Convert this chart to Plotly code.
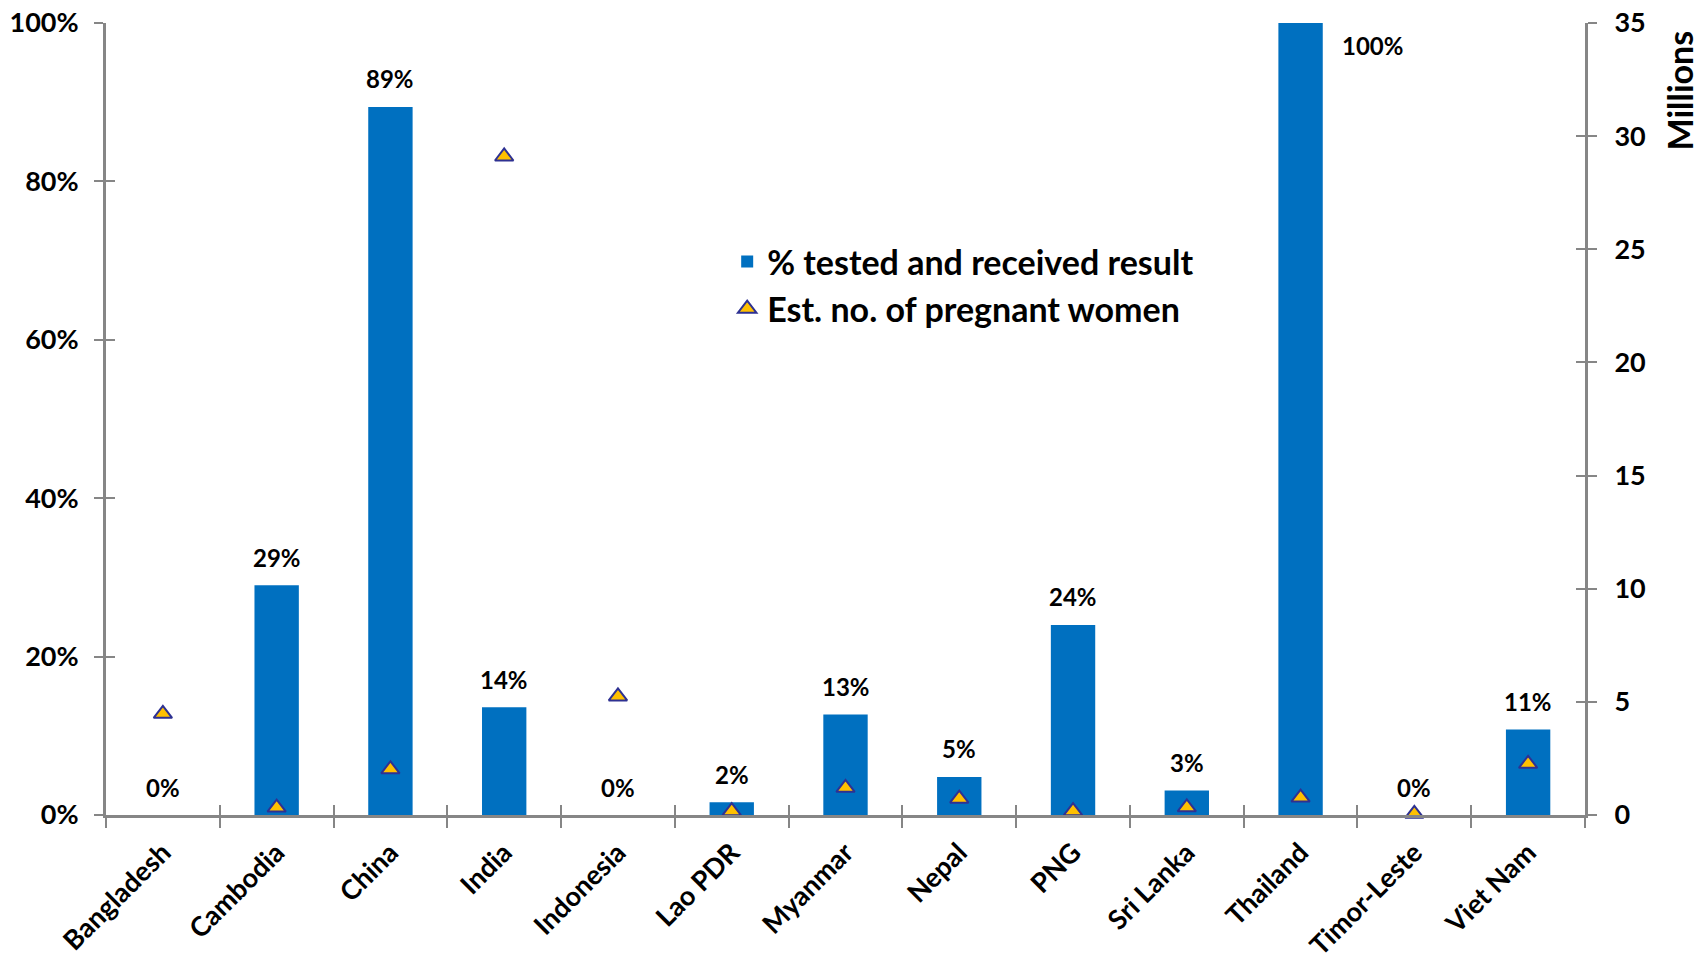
import plotly.graph_objects as go

# Countries on the category axis
countries = ["Bangladesh", "Cambodia", "China", "India", "Indonesia", "Lao PDR",
             "Myanmar", "Nepal", "PNG", "Sri Lanka", "Thailand", "Timor-Leste", "Viet Nam"]

# % of pregnant women tested and received result (left axis)
pct_tested = [0, 29.0, 89.4, 13.6, 0, 1.6, 12.7, 4.8, 24.0, 3.1, 100, 0, 10.8]

# Estimated number of pregnant women, millions (right axis)
pregnant_women_m = [4.47, 0.33, 2.02, 29.1, 5.24, 0.17, 1.2, 0.72, 0.17, 0.34, 0.77, 0.05, 2.26]

left_ticks = [0, 20, 40, 60, 80, 100]
left_tick_text = [f"{v}%" for v in left_ticks]
right_ticks = [0, 5, 10, 15, 20, 25, 30, 35]

FONT = "Lato"
AXIS_GREY = "#868686"
BAR_BLUE = "#0070C0"

fig = go.Figure()

fig.add_trace(go.Bar(
    x=countries, y=pct_tested, name="% tested and received result",
    marker=dict(color=BAR_BLUE, line=dict(width=0)),
    width=0.39, xaxis="x", yaxis="y",
))

fig.add_trace(go.Scatter(
    x=countries, y=pregnant_women_m, name="Est. no. of pregnant women",
    mode="markers", xaxis="x", yaxis="y2",
    marker=dict(symbol="triangle-up", size=16, color="#FFC000",
                line=dict(color="#2E3192", width=2)),
    cliponaxis=False,
))

# Invisible traces carrying the overlay axes that draw the inner half of the tick marks
fig.add_trace(go.Scatter(x=countries, y=[None] * len(countries), xaxis="x2", yaxis="y3",
                         showlegend=False, hoverinfo="skip"))
fig.add_trace(go.Scatter(x=countries, y=[None] * len(countries), xaxis="x2", yaxis="y4",
                         showlegend=False, hoverinfo="skip"))

label_font = dict(family=FONT, size=24, color="black", weight="bold")

# Value labels above each bar
for c, v in zip(countries, pct_tested):
    if v >= 100:
        fig.add_annotation(x=c, y=v, xref="x", yref="y", text=f"{v:.0f}%",
                           showarrow=False, xshift=72, yshift=-22, font=label_font)
    else:
        fig.add_annotation(x=c, y=v, xref="x", yref="y", text=f"{v:.0f}%",
                           showarrow=False, yshift=28, font=label_font)

# Right axis title
fig.add_annotation(x=1.0, y=1.0, xref="paper", yref="paper", text="Millions",
                   textangle=-90, showarrow=False, xanchor="left", yanchor="top",
                   xshift=71, yshift=-6,
                   font=dict(family=FONT, size=34, color="black", weight="bold"))

tick_font = dict(family=FONT, size=27, color="black", weight="bold")

fig.update_layout(
    width=1705, height=964,
    margin=dict(l=106, r=120, t=23, b=149, autoexpand=False),
    paper_bgcolor="white", plot_bgcolor="white",
    showlegend=True,
    legend=dict(x=0.42, y=0.735, xanchor="left", yanchor="top",
                bgcolor="rgba(0,0,0,0)",
                font=dict(family=FONT, size=34, color="black", weight="bold"),
                tracegroupgap=0),
    xaxis=dict(type="category", categoryorder="array", categoryarray=countries,
               range=[-0.5, 12.5], tickson="boundaries", ticks="outside",
               ticklen=10, tickwidth=2, tickcolor=AXIS_GREY,
               showline=True, linecolor=AXIS_GREY, linewidth=3,
               tickangle=-45, tickfont=dict(family=FONT, size=27, color="black", weight="bold"),
               ticklabelstandoff=8, automargin=False, showgrid=False, zeroline=False),
    xaxis2=dict(type="category", categoryorder="array", categoryarray=countries,
                range=[-0.5, 12.5], overlaying="x", anchor="y3", side="bottom",
                tickson="boundaries", ticks="inside", ticklen=10, tickwidth=2,
                tickcolor=AXIS_GREY, showticklabels=False, showline=False,
                automargin=False, showgrid=False, zeroline=False),
    yaxis=dict(range=[0, 100], tickvals=left_ticks, ticktext=left_tick_text,
               ticks="outside", ticklen=9, tickwidth=2, tickcolor=AXIS_GREY,
               showline=True, linecolor=AXIS_GREY, linewidth=3,
               tickfont=tick_font, ticklabelstandoff=10, automargin=False,
               showgrid=False, zeroline=False),
    yaxis2=dict(range=[0, 35], tickvals=right_ticks, overlaying="y", side="right",
                anchor="x", ticks="outside", ticklen=9, tickwidth=2,
                tickcolor=AXIS_GREY, showline=True, linecolor=AXIS_GREY, linewidth=3,
                tickfont=tick_font, ticklabelstandoff=12, automargin=False,
                showgrid=False, zeroline=False),
    yaxis3=dict(range=[0, 100], tickvals=left_ticks, overlaying="y", side="left",
                anchor="x2", ticks="inside", ticklen=9, tickwidth=2,
                tickcolor=AXIS_GREY, showticklabels=False, showline=False,
                automargin=False, showgrid=False, zeroline=False),
    yaxis4=dict(range=[0, 35], tickvals=right_ticks, overlaying="y", side="right",
                anchor="x2", ticks="inside", ticklen=9, tickwidth=2,
                tickcolor=AXIS_GREY, showticklabels=False, showline=False,
                automargin=False, showgrid=False, zeroline=False),
)

fig.write_html("out.html")
